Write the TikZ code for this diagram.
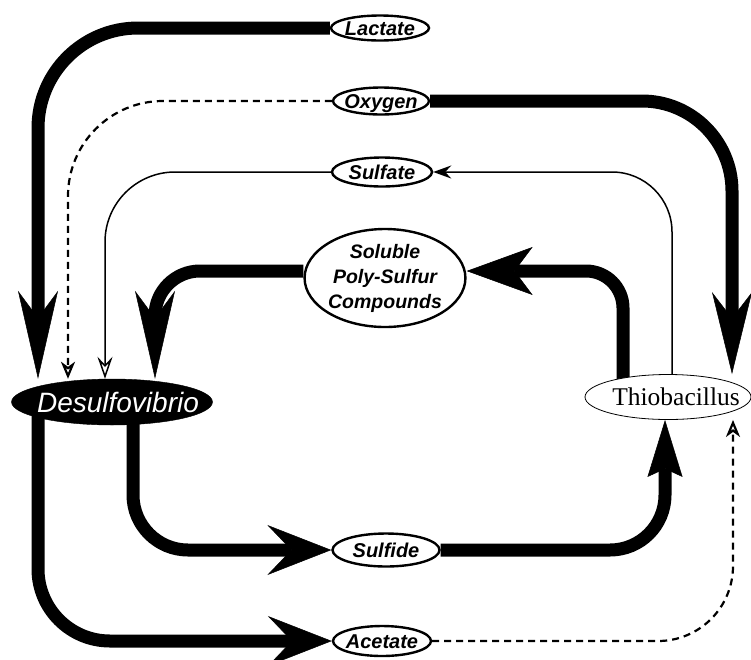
\documentclass[tikz,border=0pt]{standalone}
\usepackage{fontspec}
\usetikzlibrary{shapes.geometric,arrows.meta,backgrounds}
\newfontfamily\labfont{Liberation Sans}
\newfontfamily\thiofont{Liberation Serif}
\tikzset{
  HeavyLong/.tip={Stealth[length=88pt,width=40pt,inset=27pt,line width=0.5pt]},
  HeavyOx/.tip={Stealth[length=82pt,width=40pt,inset=26pt,line width=0.5pt]},
  HeavyWide/.tip={Stealth[length=66pt,width=48pt,inset=18pt,line width=0.5pt]},
  HeavyMed/.tip={Stealth[length=64pt,width=50pt,inset=24pt,line width=0.5pt]},
  HeavyUp/.tip={Stealth[length=57pt,width=35pt,inset=8pt,line width=0.5pt]},
  SmallFill/.tip={Stealth[length=18pt,width=13pt,inset=6pt]},
  ThinOpen/.tip={Stealth[open,length=22pt,width=15pt,inset=8pt]},
  DashOpen/.tip={Stealth[open,length=17pt,width=14pt,inset=5pt]},
}
\begin{document}
\begin{tikzpicture}[x=1pt,y=-1pt,
  ellbase/.style={ellipse, draw, line width=2.4pt, fill=white, inner sep=0pt},
  lbl/.style={ellbase, text height=14.5pt, text depth=0pt,
    font=\labfont\bfseries\itshape\fontsize{20}{22}\selectfont},
  heavy/.style={line width=13pt},
  thinline/.style={line width=1.5pt},
  dashline/.style={line width=2.2pt, dash pattern=on 7pt off 5pt},
]
\useasboundingbox (0,0) rectangle (751,659);

% nodes
\node[lbl, minimum width=98pt, minimum height=25pt] (lactate) at (380,28) {\makebox[0pt]{Lactate}};
\node[lbl, minimum width=96pt, minimum height=27pt] (oxygen) at (381,101) {\makebox[0pt]{Oxygen}};
\node[lbl, minimum width=100pt, minimum height=29pt] (sulfate) at (382,172) {\makebox[0pt]{Sulfate}};
\node[ellbase, minimum width=157pt, minimum height=98pt, align=center,
  font=\labfont\bfseries\itshape\fontsize{19.5}{25}\selectfont] (soluble) at (385,278)
  {Soluble\\Poly-Sulfur\\Compounds};
\node[lbl, minimum width=107pt, minimum height=33pt] (sulfide) at (386,550) {\makebox[0pt]{Sulfide}};
\node[lbl, minimum width=98pt, minimum height=30pt] (acetate) at (382,641) {\makebox[0pt]{Acetate}};
\node[ellipse, fill=black, draw=black, inner sep=0pt, minimum width=201pt, minimum height=46pt,
  text=white, text height=20pt, text depth=0pt,
  font=\labfont\itshape\fontsize{28}{30}\selectfont] (desulfo) at (112,402)
  {\makebox[0pt]{\kern12pt Desulfovibrio}};
\node[ellipse, draw, line width=0.8pt, fill=white, inner sep=0pt, minimum width=166pt, minimum height=45pt,
  text height=17pt, text depth=0pt,
  font=\thiofont\fontsize{25.5}{28}\selectfont] (thio) at (668,397)
  {\makebox[0pt]{\kern16pt Thiobacillus}};

% column coordinates
\coordinate (xLac) at (38,0);
\coordinate (xOxL) at (68,0);
\coordinate (xSuL) at (105,0);
\coordinate (xSdL) at (133,0);
\coordinate (xSoL) at (155,0);
\coordinate (xSoR) at (623,0);
\coordinate (xSfR) at (665,0);
\coordinate (xSuR) at (672,0);
\coordinate (xOxR) at (732,0);
\coordinate (xAcR) at (733,0);

\begin{scope}[on background layer]
% lactate -> desulfovibrio
\draw[heavy, -HeavyLong, rounded corners=100pt] (lactate.west) -| (desulfo.north -| xLac);
% oxygen -> desulfovibrio (dashed)
\draw[dashline, -DashOpen, rounded corners=95pt] (oxygen.west) -| (desulfo.north -| xOxL);
% sulfate -> desulfovibrio
\draw[thinline, -ThinOpen, rounded corners=70pt] (sulfate.west) -| (desulfo.north -| xSuL);
% soluble -> desulfovibrio
\draw[heavy, -HeavyLong, rounded corners=45pt] ([yshift=7pt]soluble.west) -| (desulfo.north -| xSoL);
% oxygen -> thiobacillus
\draw[heavy, -HeavyOx, rounded corners=90pt] (oxygen.east) -| (thio.north -| xOxR);
% thiobacillus -> sulfate
\draw[thinline, -SmallFill, rounded corners=60pt] (thio.center -| xSuR) |- (sulfate.east);
% thiobacillus -> soluble
\draw[heavy, -HeavyWide, rounded corners=37pt] (thio.center -| xSoR) |- ([yshift=7pt]soluble.east);
% desulfovibrio -> sulfide
\draw[heavy, -HeavyMed, rounded corners=55pt] (desulfo.center -| xSdL) |- (sulfide.west);
% sulfide -> thiobacillus
\draw[heavy, -HeavyUp, rounded corners=55pt] (sulfide.east) -| (thio.south -| xSfR);
% desulfovibrio -> acetate
\draw[heavy, -HeavyMed, rounded corners=72pt] (desulfo.center -| xLac) |- (acetate.west);
% acetate -> thiobacillus (dashed)
\draw[dashline, -DashOpen, rounded corners=75pt] (acetate.east) -| (thio.south -| xAcR);
\end{scope}
\end{tikzpicture}
\end{document}
